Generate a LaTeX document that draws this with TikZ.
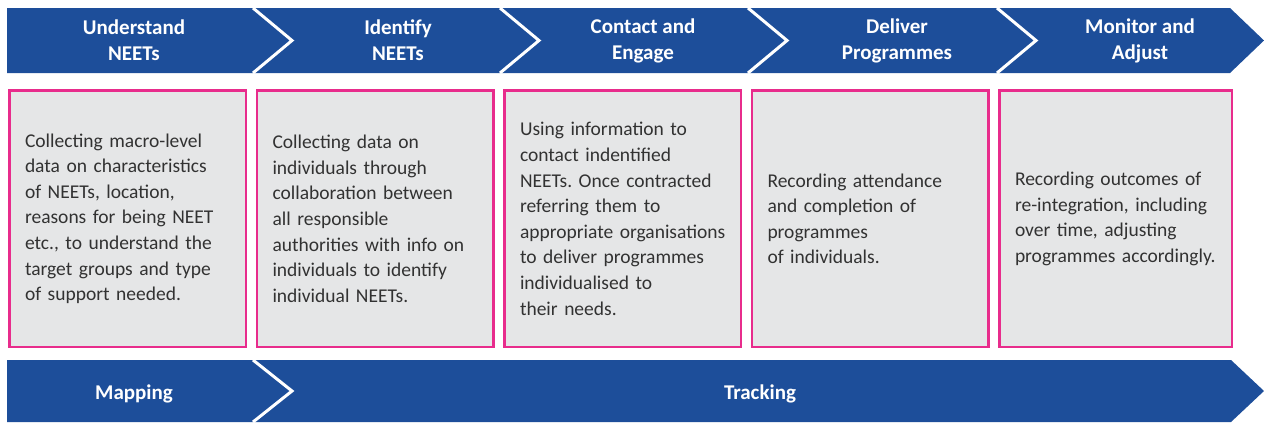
\documentclass[tikz,border=0pt]{standalone}
\usepackage{fontspec}
\setmainfont{Carlito}
\usepackage{tikz}
\usetikzlibrary{positioning}
\definecolor{eublue}{RGB}{29,78,154}
\definecolor{boxpink}{RGB}{232,44,140}
\definecolor{boxgrey}{RGB}{229,230,231}
\definecolor{txtgrey}{RGB}{50,50,50}
\frenchspacing

\begin{document}
\begin{tikzpicture} [x = 1pt, y = -1pt, node distance = 8.5pt,
    phase/.style = {text = white, align = center, inner sep = 0pt,
        font = \fontsize{21}{26}\selectfont\bfseries},
    infobox/.style = {draw = boxpink, line width = 2.5pt, fill = boxgrey,
        text = txtgrey, align = left, text width = 205.5pt, inner xsep = 15.5pt,
        minimum height = 256.5pt, font = \fontsize{19.5}{25.6}\selectfont}]
\useasboundingbox (0,0) rectangle (1264,423);
% arrow bars
\fill [eublue] (7,8) -- (1230,8) -- (1264,40.5) -- (1230,73) -- (7,73) -- cycle;
\fill [eublue] (7,360) -- (1231,360) -- (1264,391) -- (1231,422) -- (7,422) -- cycle;
\foreach \x in {253, 500, 748, 997}
    \draw [white, line width = 3pt] (\x,8) -- ++(39,32.5) -- ++(-39,32.5);
\draw [white, line width = 3pt] (253,360) -- ++(39,31) -- ++(-39,31);
% phases
\node (h1) [phase] at (134,40.5) {Understand\\NEETs};
\node (h2) [phase] at (398,40.5) {Identify\\NEETs};
\node (h3) [phase] at (643,40.5) {Contact and\\Engage};
\node (h4) [phase] at (897,40.5) {Deliver\\Programmes};
\node (h5) [phase] at (1140,40.5) {Monitor and\\Adjust};
\node (map) [phase] at (134,394) {Mapping};
\node (track) [phase] at (760,394) {Tracking};
% boxes
\node (b1) [infobox, anchor = north west] at (8.25,89.25) {Collecting macro-level\\data on characteristics\\of NEETs, location,\\reasons for being NEET\\etc., to understand the\\target groups and type\\of support needed.};
\node (b2) [infobox, right = of b1] {Collecting data on\\individuals through\\collaboration between\\all responsible\\authorities with info on\\individuals to identify\\individual NEETs.};
\node (b3) [infobox, right = of b2] {Using information to\\contact indentified\\NEETs. Once contracted\\referring them to\\appropriate organisations\\to deliver programmes\\individualised to\\their needs.};
\node (b4) [infobox, right = of b3] {Recording attendance\\and completion of\\programmes\\of individuals.};
\node (b5) [infobox, right = of b4, text width = 201.5pt] {Recording outcomes of\\re-integration, including\\over time, adjusting\\programmes accordingly.};
\end{tikzpicture}
\end{document}
